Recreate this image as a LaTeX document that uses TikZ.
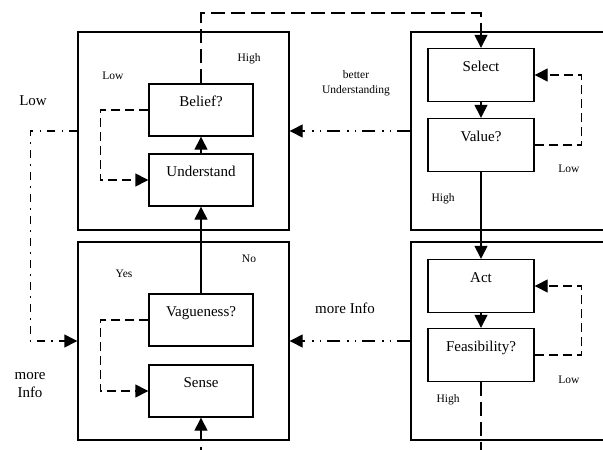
\documentclass[tikz,border=0pt]{standalone}
\usepackage{fontspec}
\setmainfont{Liberation Serif}
\usetikzlibrary{arrows.meta}
\begin{document}
\begin{tikzpicture}[x=1pt,y=-1pt,
  outer/.style={draw, line width=1.4pt, inner sep=0pt},
  stepbox/.style={draw, line width=1.4pt, minimum width=104pt, minimum height=52pt, inner sep=0pt,
    font=\fontsize{15}{18}\selectfont, text height=11pt, text depth=18pt},
  conn/.style={line width=1.4pt},
  arr/.style={conn, -{Triangle[length=13pt,width=13pt]}},
  sdash/.style={dash pattern=on 9pt off 5pt},
  ldash/.style={dash pattern=on 14pt off 6pt},
  ddot/.style={dash pattern=on 13pt off 6pt on 1.5pt off 6pt on 1.5pt off 7pt},
  vdot/.style={dash pattern=on 8pt off 6pt on 1.5pt off 6.5pt},
  small/.style={font=\fontsize{11.5}{15}\selectfont, inner sep=0pt, align=center},
  big/.style={font=\fontsize{15}{18}\selectfont, inner sep=0pt, align=center}]
\useasboundingbox (0,0) rectangle (603,450);
\clip (0,0) rectangle (603,450);
% outer boxes
\node[outer, minimum width=211pt, minimum height=198pt] (TL) at (183.5,131) {};
\node[outer, minimum width=211pt, minimum height=198pt] (BL) at (183.5,341) {};
\node[outer, minimum width=229pt, minimum height=198pt] (TR) at (525.5,131) {};
\node[outer, minimum width=229pt, minimum height=198pt] (BR) at (525.5,341) {};
% inner boxes
\node[stepbox] (bel) at (201,110) {Belief?};
\node[stepbox] (und) at (201,180) {Understand};
\node[stepbox] (vag) at (201,320) {Vagueness?};
\node[stepbox] (sen) at (201,391) {Sense};
\node[stepbox, minimum width=106pt, minimum height=53pt] (sel) at (481,75) {Select};
\node[stepbox, minimum width=106pt, minimum height=53pt] (val) at (481,145) {Value?};
\node[stepbox, minimum width=106pt, minimum height=53pt] (act) at (481,286) {Act};
\node[stepbox, minimum width=106pt, minimum height=53pt] (fea) at (481,355) {Feasibility?};
% labels
\node[small] (l1) at (113,76) {Low};
\node[small] (l2) at (249,59) {High};
\node[big] (l3) at (33,101) {Low};
\node[small] (l4) at (124,274) {Yes};
\node[small] (l5) at (249,259) {No};
\node[big] (l6) at (30,385) {more\\Info};
\node[small] (l7) at (356,83.5) {better\\Understanding};
\node[small] (l8) at (569,169) {Low};
\node[small] (l9) at (443,199) {High};
\node[big] (l10) at (345,308) {more Info};
\node[small] (l11) at (569,380) {Low};
\node[small] (l12) at (448,400) {High};
% solid arrows
\draw[arr] (und.north) -- (bel.south);
\draw[arr] (vag.north) -- (und.south);
\draw[arr] (sel.south) -- (val.north);
\draw[arr] (val.south) -- (act.north);
\draw[arr] (act.south) -- (fea.north);
% entering from below
\coordinate (sin) at (201,455);
\draw[arr, dash pattern=on 8pt off 6pt on 60pt] (sin) -- (sen.south);
% leaving below
\coordinate (fout) at (481,455);
\draw[conn, ldash] (fea.south) -- (fout);
% top dashed
\draw[arr, ldash] (bel.north) -- (201,13) -- (481,13) -- (sel.north);
% loops
\draw[arr, sdash] (bel.west) -- ++(-48,0) |- (und.west);
\draw[arr, sdash] (vag.west) -- ++(-48,0) |- (sen.west);
\draw[arr, sdash] (val.east) -- ++(47,0) |- (sel.east);
\draw[arr, sdash] (fea.east) -- ++(47,0) |- (act.east);
% dash-dot connectors
\draw[arr, vdot] (TL.west) -- ++(-47,0) |- (BL.west);
\draw[arr, ddot] (TR.west) -- (TL.east);
\draw[arr, ddot] (BR.west) -- (BL.east);
\end{tikzpicture}
\end{document}
